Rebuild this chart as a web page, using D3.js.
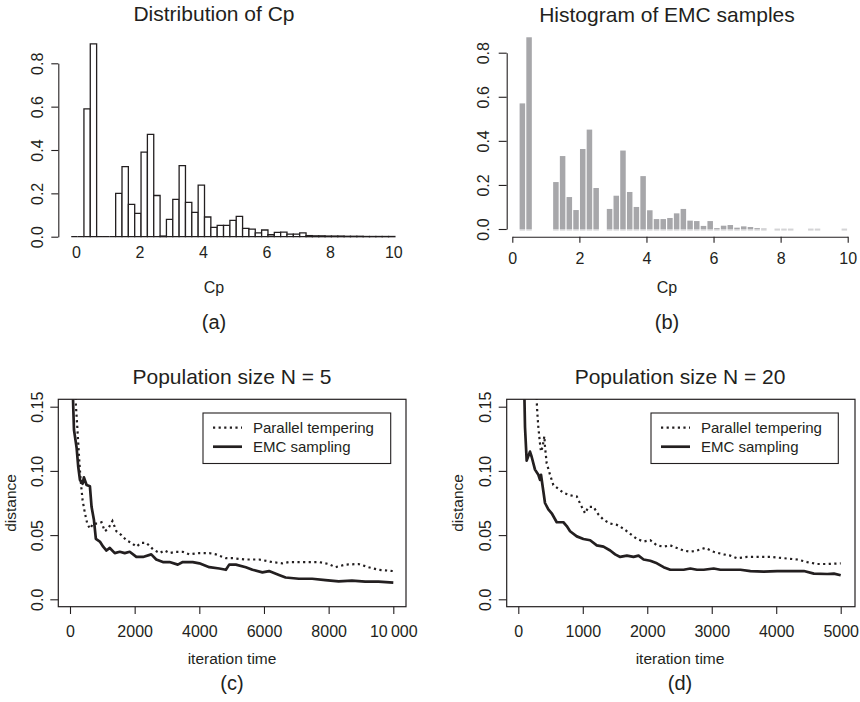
<!DOCTYPE html>
<html>
<head>
<meta charset="utf-8">
<script src="https://cdn.jsdelivr.net/npm/d3@7"></script>
<style>
    body { margin: 0; background: #fff; }
    svg text { font-family: "Liberation Sans", Arial, sans-serif; fill: #231f20; }
</style>
</head>
<body>
<svg id="chart" width="860" height="702"></svg>
<script>
// ---- data ----
// (a) exact distribution of Cp, bins of width 0.2 starting at -0.15
const cpBinStartA = -0.15;
const cpBinWidth = 0.2;
const cpDensity = [0, 0, 0.59, 0.89, 0, 0, 0, 0.20, 0.323, 0.149, 0.108, 0.39, 0.472, 0.19, 0.003,
    0.08, 0.172, 0.328, 0.158, 0.112, 0.238, 0.091, 0.043, 0.052, 0.052, 0.075, 0.094, 0.038, 0.035,
    0.018, 0.031, 0.009, 0.02, 0.021, 0.012, 0.012, 0.018, 0.005, 0.004, 0.004, 0.003, 0.003, 0.003,
    0.002, 0.002, 0.002, 0.001, 0.001, 0.001, 0.001, 0.001];

// (b) histogram of EMC samples, bins of width 0.2 starting at 0.2
const emcBinStart = 0.2;
const emcDensity = [0.57, 0.87, 0, 0, 0, 0.213, 0.331, 0.145, 0.086, 0.363, 0.451, 0.186, 0,
    0.091, 0.151, 0.356, 0.168, 0.100, 0.240, 0.085, 0.045, 0.045, 0.050, 0.071, 0.091, 0.038,
    0.036, 0.014, 0.036, 0.004, 0.015, 0.018, 0.006, 0.012, 0.009, 0.004, 0.002, 0, 0.001, 0.001,
    0.001, 0, 0, 0.001, 0.001, 0, 0, 0, 0.001];

const histTicksY = [0, 0.2, 0.4, 0.6, 0.8];
const histTicksX = [0, 2, 4, 6, 8, 10];

// (c) population size N = 5, [iteration, distance]
const ptN5 = [[170, 0.17], [185, 0.15], [226, 0.134], [287, 0.108], [328, 0.093], [390, 0.077], [462, 0.067],
    [534, 0.059], [616, 0.055], [718, 0.059], [872, 0.059], [975, 0.060], [1077, 0.053], [1180, 0.055],
    [1313, 0.061], [1436, 0.053], [1590, 0.050], [1744, 0.046], [1898, 0.044], [2052, 0.041], [2206, 0.044],
    [2360, 0.044], [2565, 0.039], [2770, 0.036], [2924, 0.038], [3078, 0.036], [3283, 0.037], [3488, 0.037],
    [3694, 0.035], [4001, 0.036], [4309, 0.036], [4514, 0.035], [4822, 0.032], [5027, 0.032], [5438, 0.031],
    [5848, 0.031], [6259, 0.029], [6566, 0.028], [6772, 0.029], [7079, 0.029], [7387, 0.029], [7695, 0.029],
    [8003, 0.0275], [8208, 0.025], [8516, 0.027], [8926, 0.0275], [9234, 0.025], [9542, 0.023], [10000, 0.022]];
const emcN5 = [[80, 0.17], [100, 0.15], [123, 0.132], [205, 0.118], [256, 0.103], [308, 0.093], [390, 0.090],
    [431, 0.095], [513, 0.089], [616, 0.088], [667, 0.072], [739, 0.062], [800, 0.047], [923, 0.045],
    [1026, 0.041], [1128, 0.038], [1231, 0.040], [1385, 0.036], [1539, 0.037], [1693, 0.036], [1847, 0.037],
    [2052, 0.033], [2257, 0.033], [2514, 0.035], [2668, 0.031], [2873, 0.029], [3078, 0.029], [3335, 0.027],
    [3488, 0.029], [3796, 0.029], [4001, 0.028], [4309, 0.025], [4617, 0.024], [4822, 0.023], [4925, 0.027],
    [5130, 0.027], [5438, 0.025], [5643, 0.023], [5951, 0.021], [6156, 0.022], [6464, 0.019], [6669, 0.017],
    [7079, 0.016], [7490, 0.016], [7900, 0.015], [8311, 0.014], [8721, 0.0145], [9131, 0.0138], [9542, 0.0138],
    [10000, 0.013]];

// (d) population size N = 20, [iteration, distance]
const ptN20 = [[270, 0.17], [295, 0.145], [311, 0.134], [337, 0.121], [352, 0.115], [378, 0.119], [404, 0.127],
    [414, 0.119], [440, 0.106], [492, 0.097], [544, 0.089], [622, 0.086], [699, 0.083], [803, 0.081],
    [907, 0.080], [984, 0.072], [1036, 0.067], [1088, 0.072], [1166, 0.072], [1243, 0.066], [1321, 0.062],
    [1425, 0.059], [1528, 0.058], [1632, 0.055], [1735, 0.051], [1839, 0.047], [1943, 0.045], [2046, 0.046],
    [2150, 0.042], [2253, 0.041], [2357, 0.042], [2461, 0.040], [2564, 0.038], [2668, 0.037], [2771, 0.038],
    [2901, 0.040], [3030, 0.037], [3186, 0.035], [3289, 0.034], [3393, 0.032], [3548, 0.033], [3704, 0.033],
    [3911, 0.033], [4118, 0.032], [4325, 0.031], [4481, 0.029], [4636, 0.0275], [4792, 0.0275], [5000, 0.028]];
const emcN20 = [[90, 0.17], [104, 0.134], [130, 0.108], [181, 0.115], [207, 0.111], [259, 0.101], [311, 0.097],
    [337, 0.093], [352, 0.097], [389, 0.084], [414, 0.075], [466, 0.070], [518, 0.067], [596, 0.060],
    [699, 0.060], [751, 0.057], [803, 0.053], [907, 0.049], [1010, 0.047], [1114, 0.046], [1217, 0.042],
    [1321, 0.041], [1425, 0.038], [1502, 0.035], [1580, 0.033], [1684, 0.034], [1787, 0.033], [1865, 0.034],
    [1943, 0.031], [2046, 0.030], [2150, 0.028], [2253, 0.025], [2357, 0.023], [2461, 0.023], [2564, 0.023],
    [2668, 0.024], [2771, 0.023], [2875, 0.023], [3030, 0.024], [3134, 0.023], [3289, 0.023], [3445, 0.023],
    [3600, 0.022], [3807, 0.0215], [4015, 0.022], [4222, 0.022], [4429, 0.022], [4584, 0.020], [4792, 0.0197],
    [4895, 0.020], [5000, 0.0187]];

const distTicks = [0, 0.05, 0.10, 0.15];
const distLabels = ["0.0", "0.05", "0.10", "0.15"];
const iterTicksN5 = [0, 2000, 4000, 6000, 8000, 10000];
const iterTicksN20 = [0, 1000, 2000, 3000, 4000, 5000];
const legendLabels = ["Parallel tempering", "EMC sampling"];

// ---- drawing ----
const svg = d3.select("svg#chart");
const ink = "#231f20";
const tickFont = 16;
const titleFont = 21;

function label(x, y, txt, size, rotate) {
    const t = svg.append("text")
        .attr("text-anchor", "middle")
        .attr("font-size", size)
        .text(txt);
    if (rotate) t.attr("transform", `translate(${x},${y}) rotate(-90)`);
    else t.attr("x", x).attr("y", y);
    return t;
}

// R-style left axis: rotated labels, ticks pointing out
function leftAxis(x, scale, ticks, fmt, tickLen, labelGap, keepDomain) {
    const g = svg.append("g").attr("transform", `translate(${x},0)`)
        .call(d3.axisLeft(scale).tickValues(ticks).tickFormat(fmt).tickSize(tickLen).tickSizeOuter(0));
    g.selectAll("line").attr("stroke", ink).attr("stroke-width", 1.1);
    if (keepDomain) g.select(".domain").attr("stroke", ink).attr("stroke-width", 1.1);
    else g.select(".domain").remove();
    g.selectAll("text")
        .attr("transform", "rotate(-90)")
        .attr("x", 0).attr("y", -labelGap).attr("dy", 0)
        .attr("text-anchor", "middle")
        .attr("font-size", tickFont);
    return g;
}

function bottomAxis(y, scale, ticks, fmt, tickLen, labelGap, keepDomain) {
    const g = svg.append("g").attr("transform", `translate(0,${y})`)
        .call(d3.axisBottom(scale).tickValues(ticks).tickFormat(fmt).tickSize(tickLen).tickSizeOuter(0));
    g.selectAll("line").attr("stroke", ink).attr("stroke-width", 1.1);
    if (keepDomain) g.select(".domain").attr("stroke", ink).attr("stroke-width", 1.1);
    else g.select(".domain").remove();
    if (tickLen === 0) g.selectAll("line").remove();
    g.selectAll("text").attr("y", labelGap).attr("dy", 0).attr("font-size", tickFont);
    return g;
}

// ---------- (a) Distribution of Cp ----------
(function () {
    const x = d3.scaleLinear().domain([0, 10]).range([76, 393.3]);
    const y = d3.scaleLinear().domain([0, 0.8]).range([236.7, 63.3]);
    const bins = cpDensity.map((v, i) => ({x0: cpBinStartA + i * cpBinWidth, x1: cpBinStartA + (i + 1) * cpBinWidth, v: v}));
    svg.append("g").selectAll("path")
        .data(bins)
        .join("path")
        .attr("d", d => `M${x(d.x0)},${y(0)}V${y(d.v)}H${x(d.x1)}V${y(0)}Z`)
        .attr("fill", "#fff")
        .attr("stroke", ink)
        .attr("stroke-width", 1.3);
    leftAxis(58.3, y, histTicksY, d3.format(".1f"), 7, 15, true);
    bottomAxis(236.7, x, histTicksX, d3.format("d"), 0, 21.5, false);
    label(214, 21, "Distribution of Cp", titleFont);
    label(214, 293, "Cp", tickFont);
    label(214, 329, "(a)", 20);
})();

// ---------- (b) Histogram of EMC samples ----------
(function () {
    const x = d3.scaleLinear().domain([0, 10]).range([512.3, 847.7]);
    const y = d3.scaleLinear().domain([0, 0.8]).range([229, 52.7]);
    const bins = emcDensity.map((v, i) => ({x0: emcBinStart + i * cpBinWidth, x1: emcBinStart + (i + 1) * cpBinWidth, v: v}))
        .filter(d => d.v > 0);
    const g = svg.append("g");
    g.selectAll("rect")
        .data(bins)
        .join("rect")
        .attr("x", d => x(d.x0) + 0.6)
        .attr("width", d => x(d.x1) - x(d.x0) - 1.2)
        .attr("y", d => y(d.v))
        .attr("height", d => y(0) - y(d.v))
        .attr("fill", "#a7a7aa");
    g.selectAll("line")
        .data(bins)
        .join("line")
        .attr("x1", d => x(d.x0) + 0.6)
        .attr("x2", d => x(d.x1) - 0.6)
        .attr("y1", y(0) + 0.8)
        .attr("y2", y(0) + 0.8)
        .attr("stroke", "#d4d4d6")
        .attr("stroke-width", 1.6);
    leftAxis(506.7, y, histTicksY, d3.format(".1f"), 8, 17.7, true);
    bottomAxis(236.7, x, histTicksX, d3.format("d"), 6, 27.8, true);
    label(667, 21.5, "Histogram of EMC samples", titleFont);
    label(667, 293, "Cp", tickFont);
    label(667, 329, "(b)", 20);
})();

// ---------- (c), (d) convergence panels ----------
function convergencePanel(opt) {
    const x = d3.scaleLinear().domain([0, opt.xMax]).range([opt.x0, opt.x1]);
    const y = d3.scaleLinear().domain([0, 0.15]).range([599.3, 406.7]);
    const box = {left: opt.boxL, right: opt.boxR, top: 399.3, bottom: 606.7};

    const clipId = "clip" + opt.tag;
    svg.append("clipPath").attr("id", clipId)
        .append("rect")
        .attr("x", box.left).attr("y", box.top)
        .attr("width", box.right - box.left).attr("height", box.bottom - box.top);

    const lineGen = d3.line().x(d => x(d[0])).y(d => y(d[1]));
    const lines = svg.append("g").attr("clip-path", `url(#${clipId})`);
    lines.append("path")
        .datum(opt.pt)
        .attr("d", lineGen)
        .attr("fill", "none")
        .attr("stroke", ink)
        .attr("stroke-width", 2.2)
        .attr("stroke-dasharray", "2.2,3.4");
    lines.append("path")
        .datum(opt.emc)
        .attr("d", lineGen)
        .attr("fill", "none")
        .attr("stroke", ink)
        .attr("stroke-width", 2.7)
        .attr("stroke-linejoin", "round");

    svg.append("rect")
        .attr("x", box.left).attr("y", box.top)
        .attr("width", box.right - box.left).attr("height", box.bottom - box.top)
        .attr("fill", "none").attr("stroke", ink).attr("stroke-width", 1.2);

    leftAxis(box.left, y, distTicks, (d, i) => distLabels[i], 8, opt.yGap, false);
    bottomAxis(box.bottom, x, opt.xTicks, d => d >= 10000 ? "10\u2009000" : d, 7.3, 30, false);

    // legend
    const lg = svg.append("g");
    lg.append("rect")
        .attr("x", opt.legL).attr("y", 413)
        .attr("width", opt.legW).attr("height", 50.5)
        .attr("fill", "#fff").attr("stroke", ink).attr("stroke-width", 1.1);
    const rowY = [427.7, 446.7];
    legendLabels.forEach((t, i) => {
        lg.append("line")
            .attr("x1", opt.legL + 10).attr("x2", opt.legL + 39)
            .attr("y1", rowY[i]).attr("y2", rowY[i])
            .attr("stroke", ink)
            .attr("stroke-width", i === 0 ? 2.2 : 2.7)
            .attr("stroke-dasharray", i === 0 ? "2.2,3.4" : null);
        lg.append("text")
            .attr("x", opt.legL + 50).attr("y", rowY[i] + 5.5)
            .attr("font-size", 15)
            .text(t);
    });

    label(opt.mid, 383.5, opt.title, titleFont);
    label(opt.mid, 663.5, "iteration time", 15.5);
    label(opt.mid, 690, opt.panel, 20);
    label(opt.yLabelX, 503, "distance", 15.5, true);
}

convergencePanel({
    tag: "c", xMax: 10000, x0: 70, x1: 393.3, boxL: 58.3, boxR: 406,
    xTicks: iterTicksN5, pt: ptN5, emc: emcN5, yGap: 15.6,
    legL: 203, legW: 187.7, mid: 232, title: "Population size N = 5", panel: "(c)", yLabelX: 16
});
convergencePanel({
    tag: "d", xMax: 5000, x0: 518.3, x1: 840.7, boxL: 506.7, boxR: 855,
    xTicks: iterTicksN20, pt: ptN20, emc: emcN20, yGap: 16,
    legL: 651, legW: 187.3, mid: 680, title: "Population size N = 20", panel: "(d)", yLabelX: 463.3
});
</script>
</body>
</html>
